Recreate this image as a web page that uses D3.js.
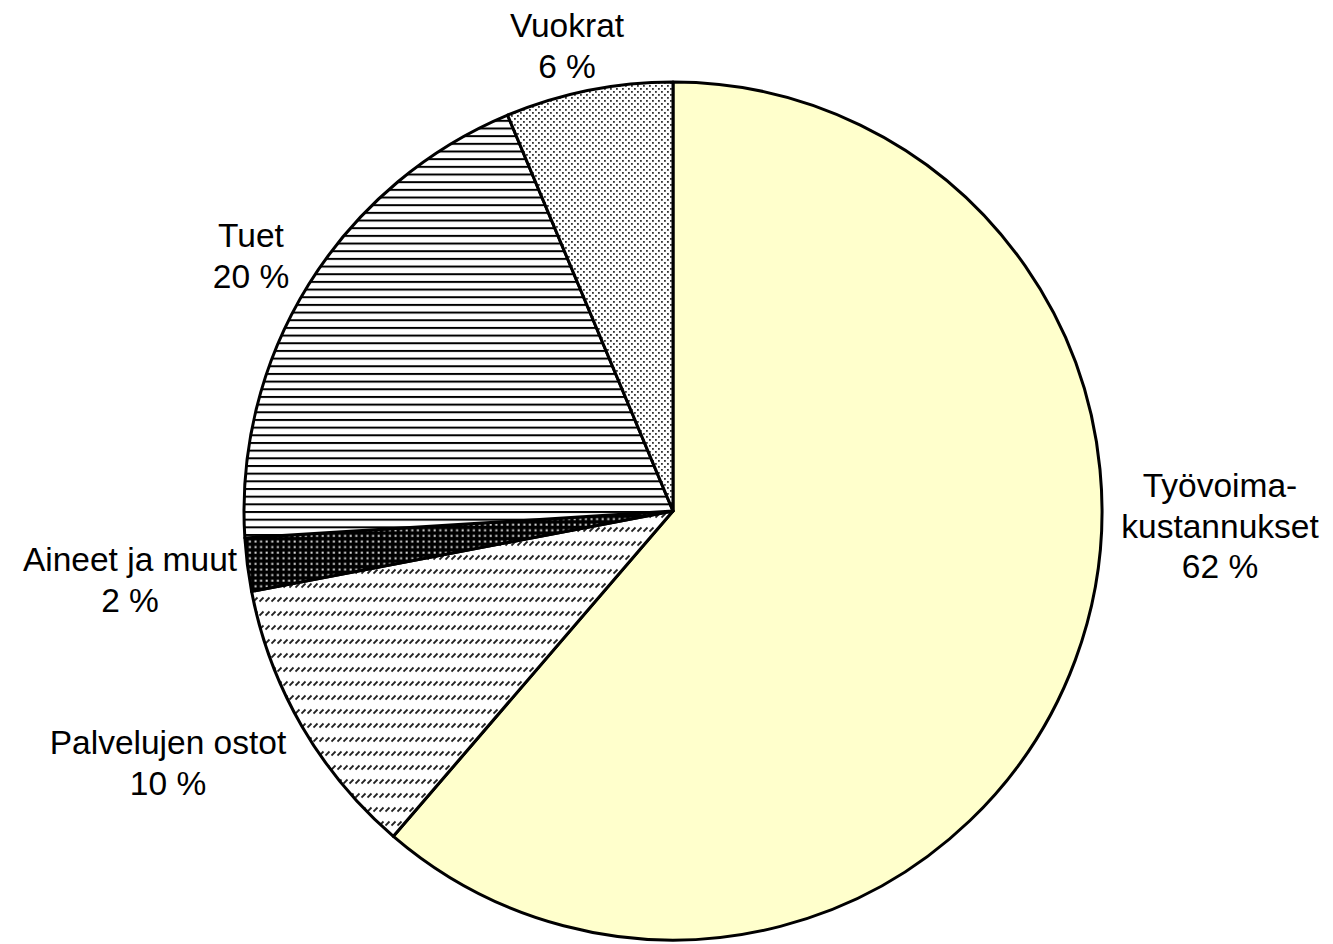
<!DOCTYPE html>
<html>
<head>
<meta charset="utf-8">
<script src="https://cdn.jsdelivr.net/npm/d3@7"></script>
<style>
  html, body { margin: 0; padding: 0; background: #fff; }
  svg { display: block; }
  text { font-family: "Liberation Sans", Arial, sans-serif; font-size: 33.5px; fill: #000; }
</style>
</head>
<body>
<svg id="chart" width="1333" height="944"></svg>
<script>
// Data (clockwise from 12 o'clock)
const categories = ["Työvoimakustannukset", "Palvelujen ostot", "Aineet ja muut", "Tuet", "Vuokrat"];
const values = [61.3, 10.7, 2.0, 19.7, 6.3];
const labelLines = [
  ["Työvoima-", "kustannukset", "62 %"],
  ["Palvelujen ostot", "10 %"],
  ["Aineet ja muut", "2 %"],
  ["Tuet", "20 %"],
  ["Vuokrat", "6 %"]
];

// Layout (not data)
const cx = 673, cy = 511, R = 429;
const labelAnchors = [[1220, 497], [168, 754], [130, 571], [251, 247], [567, 37]];
const lineGap = 40.5;
const fills = ["#FFFFCC", "url(#pDash)", "url(#pBlackDots)", "url(#pHLines)", "url(#pDots)"];

const svg = d3.select("#chart");
const defs = svg.append("defs");

// Horizontal lines pattern (Tuet)
const pH = defs.append("pattern").attr("id", "pHLines").attr("patternUnits", "userSpaceOnUse")
  .attr("width", 8).attr("height", 7.67);
pH.append("rect").attr("width", 8).attr("height", 7.67).attr("fill", "#fff");
pH.append("rect").attr("y", 0).attr("width", 8).attr("height", 2).attr("fill", "#000");

// Sparse dotted (Vuokrat)
const pD = defs.append("pattern").attr("id", "pDots").attr("patternUnits", "userSpaceOnUse")
  .attr("width", 6).attr("height", 6);
pD.append("rect").attr("width", 6).attr("height", 6).attr("fill", "#fff");
pD.append("rect").attr("x", 0).attr("y", 0).attr("width", 1.8).attr("height", 1.8).attr("fill", "#333");
pD.append("rect").attr("x", 3).attr("y", 3).attr("width", 1.8).attr("height", 1.8).attr("fill", "#333");

// Black with white dots (Aineet)
const pB = defs.append("pattern").attr("id", "pBlackDots").attr("patternUnits", "userSpaceOnUse")
  .attr("width", 5.6).attr("height", 5.6);
pB.append("rect").attr("width", 5.6).attr("height", 5.6).attr("fill", "#000");
pB.append("rect").attr("x", 1.5).attr("y", 1.5).attr("width", 2).attr("height", 2).attr("fill", "#ddd");

// Dashed diagonal rows (Palvelujen)
const pS = defs.append("pattern").attr("id", "pDash").attr("patternUnits", "userSpaceOnUse")
  .attr("width", 6).attr("height", 14);
pS.append("rect").attr("width", 6).attr("height", 14).attr("fill", "#fff");
pS.append("line").attr("x1", 0.5).attr("y1", 6.5).attr("x2", 4.5).attr("y2", 2.5)
  .attr("stroke", "#222").attr("stroke-width", 1.8);

const pie = d3.pie().sort(null).value(d => d)(values);
const arc = d3.arc().innerRadius(0).outerRadius(R);

const g = svg.append("g").attr("transform", `translate(${cx},${cy})`);
g.selectAll("path.slice").data(pie).join("path")
  .attr("class", "slice")
  .attr("d", arc)
  .attr("fill", (d, i) => fills[i])
  .attr("stroke", "#000")
  .attr("stroke-width", 3)
  .attr("stroke-linejoin", "round");

const lbl = svg.append("g");
labelLines.forEach((lines, i) => {
  const t = lbl.append("text").attr("text-anchor", "middle")
    .attr("x", labelAnchors[i][0]).attr("y", labelAnchors[i][1]);
  lines.forEach((ln, j) => {
    t.append("tspan").attr("x", labelAnchors[i][0]).attr("y", labelAnchors[i][1] + j * lineGap).text(ln);
  });
});
</script>
</body>
</html>
